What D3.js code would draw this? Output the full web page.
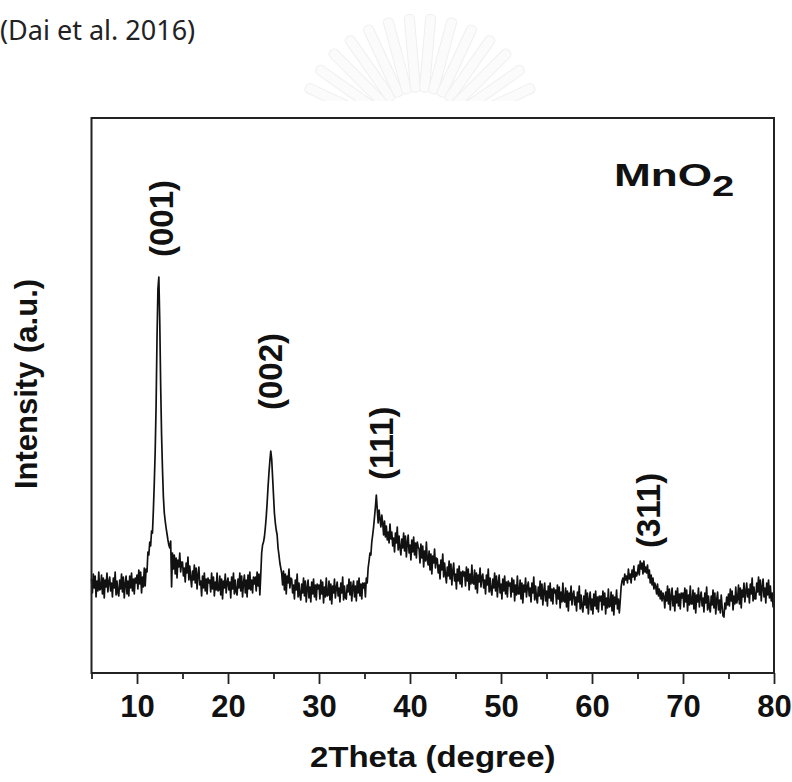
<!DOCTYPE html>
<html>
<head>
<meta charset="utf-8">
<script src="https://cdn.jsdelivr.net/npm/d3@7"></script>
<style>
  body { margin: 0; background: #fff; }
  .chart text { font-family: "Liberation Sans", Arial, Helvetica, sans-serif; font-weight: bold; fill: #111; }
  .chart .source { font-family: "Noto Sans", "DejaVu Sans", sans-serif; font-weight: normal; fill: #222; }
</style>
</head>
<body>
<div class="chart"></div>
<script>
// XRD pattern of MnO2 (2theta from 5 to 80 every 0.1 deg, one row per degree)
var twoThetaStart = 5;
var twoThetaStep = 0.1;

var intensity = [
  94, 80, 99, 85, 97, 76, 92, 82, 101, 83,
  84, 98, 79, 95, 75, 93, 86, 100, 81, 91,
  96, 82, 90, 76, 95, 85, 101, 78, 92, 80,
  77, 93, 84, 99, 81, 96, 75, 89, 97, 79,
  92, 77, 97, 85, 100, 82, 94, 79, 95, 90,
  98, 84, 103, 89, 101, 80, 96, 86, 105, 87,
  104, 101, 121, 118, 131, 127, 142, 140, 163, 190,
  222, 268, 335, 384, 396, 352, 288, 238, 204, 176,
  160, 152, 145, 139, 133, 128, 125, 132, 86, 120,
  104, 118, 99, 115, 95, 113, 106, 120, 101, 111,
  111, 97, 105, 91, 110, 100, 116, 93, 107, 95,
  86, 102, 93, 108, 90, 105, 84, 98, 106, 88,
  92, 77, 97, 85, 100, 82, 94, 79, 95, 90,
  93, 81, 100, 84, 96, 77, 91, 83, 100, 82,
  83, 97, 78, 94, 74, 92, 85, 99, 80, 90,
  95, 83, 91, 75, 96, 84, 100, 79, 93, 81,
  78, 94, 85, 100, 82, 97, 76, 90, 98, 80,
  93, 76, 98, 84, 101, 83, 93, 80, 96, 89,
  96, 82, 101, 87, 99, 78, 98, 120, 128, 131,
  136, 145, 156, 170, 186, 200, 212, 222, 214, 196,
  178, 160, 150, 143, 138, 125, 118, 110, 105, 100,
  88, 102, 83, 99, 79, 97, 90, 104, 85, 95,
  94, 80, 88, 74, 93, 83, 99, 76, 90, 78,
  73, 89, 80, 95, 77, 92, 71, 85, 93, 75,
  86, 71, 91, 79, 94, 76, 88, 73, 89, 84,
  88, 74, 93, 79, 91, 70, 86, 76, 95, 77,
  78, 92, 73, 89, 69, 87, 80, 94, 75, 85,
  91, 77, 85, 71, 90, 80, 96, 73, 87, 75,
  74, 88, 81, 94, 78, 91, 72, 86, 92, 76,
  87, 72, 92, 80, 95, 77, 89, 74, 90, 85,
  90, 76, 95, 90, 105, 112, 120, 118, 131, 138,
  146, 156, 166, 178, 164, 150, 163, 154, 146, 158,
  150, 138, 152, 136, 147, 133, 141, 130, 149, 134,
  141, 127, 135, 121, 140, 130, 146, 123, 137, 125,
  118, 134, 125, 140, 122, 137, 116, 130, 138, 120,
  128, 113, 133, 121, 136, 118, 130, 115, 131, 126,
  124, 110, 129, 115, 127, 106, 122, 112, 131, 113,
  108, 122, 103, 119, 99, 117, 110, 124, 105, 115,
  114, 100, 108, 94, 113, 103, 119, 96, 110, 98,
  90, 106, 97, 112, 94, 109, 88, 102, 110, 92,
  99, 84, 104, 92, 107, 89, 101, 86, 102, 97,
  101, 87, 106, 92, 104, 83, 99, 89, 108, 90,
  89, 103, 84, 100, 80, 98, 91, 105, 86, 96,
  99, 85, 93, 79, 98, 88, 104, 81, 95, 83,
  78, 94, 85, 100, 82, 97, 76, 90, 98, 80,
  89, 74, 94, 82, 97, 79, 91, 76, 92, 87,
  90, 76, 95, 81, 93, 72, 88, 78, 97, 79,
  79, 93, 74, 90, 70, 88, 81, 95, 76, 86,
  91, 77, 85, 71, 90, 80, 96, 73, 87, 75,
  70, 86, 77, 92, 74, 89, 68, 82, 90, 72,
  82, 67, 87, 75, 90, 72, 84, 69, 85, 80,
  83, 69, 88, 74, 86, 65, 81, 71, 90, 72,
  71, 85, 66, 82, 62, 80, 73, 87, 68, 78,
  82, 68, 76, 62, 81, 71, 87, 64, 78, 66,
  61, 77, 68, 83, 65, 80, 59, 73, 81, 63,
  74, 59, 79, 67, 82, 64, 76, 61, 77, 72,
  77, 63, 82, 68, 80, 59, 75, 65, 84, 66,
  67, 81, 62, 78, 58, 76, 69, 83, 64, 74,
  60, 72, 86, 92, 95, 88, 99, 93, 97, 90,
  104, 94, 99, 90, 103, 96, 107, 93, 101, 97,
  100, 108, 98, 112, 104, 110, 99, 112, 101, 106,
  100, 108, 95, 103, 90, 98, 88, 95, 84, 90,
  86, 79, 89, 77, 84, 74, 82, 72, 80, 76,
  65, 81, 72, 87, 69, 84, 63, 77, 85, 67,
  77, 62, 82, 70, 85, 67, 79, 64, 80, 75,
  80, 66, 85, 71, 83, 62, 78, 68, 87, 69,
  69, 83, 64, 80, 60, 78, 71, 85, 66, 76,
  81, 67, 75, 61, 80, 70, 86, 63, 77, 65,
  61, 77, 68, 83, 65, 80, 59, 73, 81, 63,
  73, 60, 78, 66, 57, 56, 70, 64, 76, 68,
  79, 67, 84, 72, 82, 63, 77, 69, 86, 70,
  74, 88, 69, 85, 65, 83, 76, 90, 71, 81,
  90, 76, 84, 70, 89, 79, 95, 72, 86, 74,
  74, 90, 81, 96, 78, 93, 72, 86, 94, 76,
  85, 70, 90, 78, 93, 75, 87, 72, 80, 66,
  68
];

// peak labels (hkl) and where they sit
var peakNames = ["(001)", "(002)", "(111)", "(311)"];
var peakAngles = [12.6, 24.6, 36.8, 66.2];
var peakLabelLevels = [416, 263, 193, 125];

var majorTicks = [10, 20, 30, 40, 50, 60, 70, 80];
var minorTicks = [5, 15, 25, 35, 45, 55, 65, 75];

//define chart area
var svgWidth = 792;
var svgHeight = 782;

var margin = {
    top: 118,
    right: 18,
    bottom: 109,
    left: 91.5
    };

var width = svgWidth - margin.left - margin.right;
var height = svgHeight - margin.top - margin.bottom;

var svg = d3
.select(".chart")
.append("svg")
.attr("width", svgWidth)
.attr("height", svgHeight);

// faint emblem behind the header
svg.append("clipPath")
    .attr("id", "emblemClip")
    .append("rect")
    .attr("x", 0)
    .attr("y", 0)
    .attr("width", svgWidth)
    .attr("height", 101);

var emblem = svg.append("g")
    .attr("clip-path", "url(#emblemClip)")
    .append("g")
    .attr("transform", "translate(420, 140)");

d3.range(-165, -10, 10).forEach(function(a) {
    emblem.append("rect")
        .attr("x", 48)
        .attr("y", -5)
        .attr("width", 78)
        .attr("height", 10)
        .attr("rx", 4)
        .attr("transform", "rotate(" + a + ")")
        .attr("fill", "#fbfbfb")
        .attr("stroke", "#efefef")
        .attr("stroke-width", 1);
});

// citation
svg.append("text")
    .classed("source", true)
    .attr("x", 0)
    .attr("y", 40)
    .style("font-size", "27px")
    .text("(Dai et al. 2016)");

var chartGroup = svg.append("g")
.attr("transform", `translate(${margin.left}, ${margin.top})`);

var xScale = d3.scaleLinear()
    .domain([5, 80])
    .range([0, width]);

var yScale = d3.scaleLinear()
    .domain([0, 555])
    .range([height, 0]);

var points = intensity.map((v, i) => ({ angle: twoThetaStart + i * twoThetaStep, value: v }));

var line = d3.line()
    .x(d => xScale(d.angle))
    .y(d => yScale(d.value));

chartGroup.append("path")
    .datum(points)
    .attr("d", line)
    .attr("fill", "none")
    .attr("stroke", "#111")
    .attr("stroke-width", 1.7)
    .attr("stroke-linejoin", "round");

// axes
var bottomAxis = d3.axisBottom(xScale)
    .tickValues(majorTicks)
    .tickSize(11)
    .tickPadding(6)
    .tickFormat(d3.format("d"));

var minorAxis = d3.axisBottom(xScale)
    .tickValues(minorTicks)
    .tickSize(6)
    .tickFormat("");

var xAxis = chartGroup.append("g")
    .attr("transform", `translate(0, ${height})`)
    .call(bottomAxis);

var xMinor = chartGroup.append("g")
    .attr("transform", `translate(0, ${height})`)
    .call(minorAxis);

[xAxis, xMinor].forEach(function(g) {
    g.select(".domain").remove();
    g.selectAll(".tick line").attr("stroke", "#222").attr("stroke-width", 1.8);
});

xAxis.selectAll(".tick text")
    .attr("y", 44)
    .attr("dy", null)
    .style("font-size", "31px")
    .attr("fill", "#111");

// frame
chartGroup.append("rect")
    .attr("x", 0)
    .attr("y", 0)
    .attr("width", width)
    .attr("height", height)
    .attr("fill", "none")
    .attr("stroke", "#222")
    .attr("stroke-width", 2);

// peak labels
chartGroup.selectAll(".peak")
    .data(peakNames)
    .enter()
    .append("text")
    .classed("peak", true)
    .attr("transform", (d, i) => `translate(${xScale(peakAngles[i])}, ${yScale(peakLabelLevels[i])}) rotate(-90)`)
    .attr("dy", "0.36em")
    .attr("text-anchor", "start")
    .style("font-size", "33px")
    .text(d => d);

// compound name
var compound = chartGroup.append("text")
    .attr("transform", `translate(${614 - margin.left}, ${186 - margin.top}) scale(1.38, 1)`)
    .style("font-size", "32px");
compound.append("tspan").text("MnO");
compound.append("tspan").attr("dy", 10).style("font-size", "29px").text("2");

// axis titles
chartGroup.append("text")
    .attr("transform", `translate(${width / 2}, ${767 - margin.top}) scale(1.1, 1)`)
    .attr("text-anchor", "middle")
    .style("font-size", "30px")
    .text("2Theta (degree)");

chartGroup.append("text")
    .attr("transform", `translate(${37 - margin.left}, ${384 - margin.top}) rotate(-90)`)
    .attr("text-anchor", "middle")
    .style("font-size", "31px")
    .text("Intensity (a.u.)");
</script>
</body>
</html>
